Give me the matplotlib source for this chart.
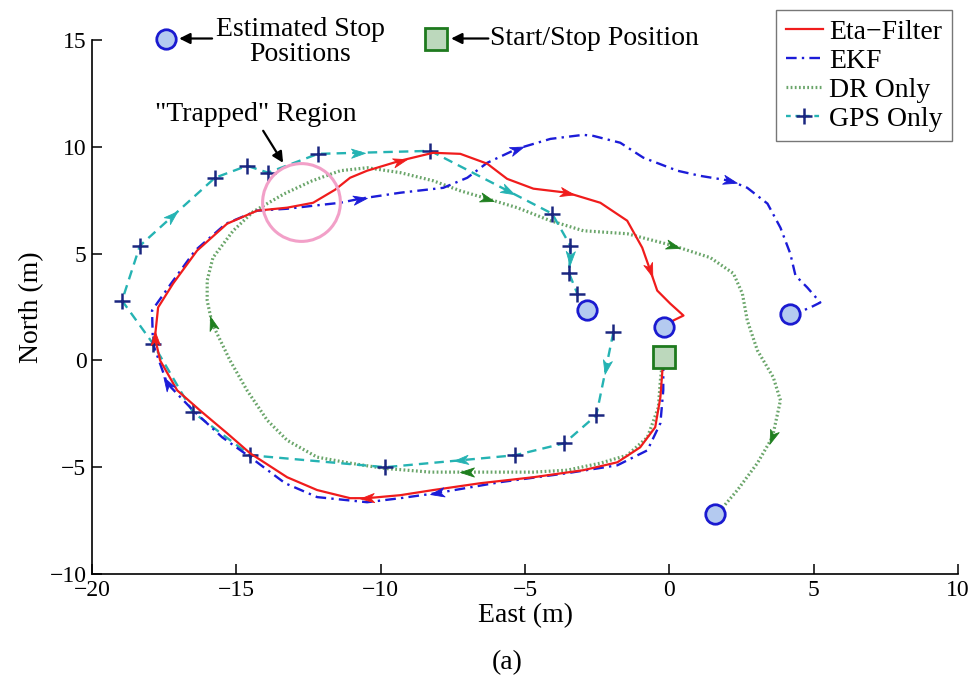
import numpy as np
import matplotlib
matplotlib.use("Agg")
import matplotlib.pyplot as plt
from matplotlib.lines import Line2D
from matplotlib.markers import MarkerStyle
from matplotlib.path import Path
from matplotlib.transforms import Affine2D

plt.rcParams['font.family'] = ['Liberation Serif', 'DejaVu Serif']

# ---------------------------------------------------------------- data (metres)
eta_east = [-0.24, -0.24, -0.31, -0.49, -1.01, -1.80, -2.98, -4.71, -6.55, -8.18,
            -9.32, -10.47, -11.06, -12.20, -13.24, -14.52, -15.32, -16.26, -17.05, -17.64,
            -17.82, -17.71, -17.19, -16.36, -15.32, -14.28, -13.24, -12.34, -11.58, -11.06,
            -10.47, -9.32, -8.18, -7.24, -6.31, -5.62, -4.71, -3.54, -2.39, -1.46,
            -0.94, -0.66, -0.42, 0.03, 0.49, 0.14, -0.20]
eta_north = [0.14, -0.47, -1.73, -3.13, -4.07, -4.77, -5.14, -5.47, -5.75, -6.07,
             -6.31, -6.45, -6.45, -6.07, -5.47, -4.35, -3.41, -2.34, -1.40, 0.00,
             1.07, 2.48, 3.60, 5.14, 6.40, 7.01, 7.15, 7.38, 7.99, 8.55,
             8.88, 9.35, 9.72, 9.67, 9.21, 8.50, 8.04, 7.85, 7.38, 6.54,
             5.28, 4.21, 3.27, 2.66, 2.10, 1.87, 1.55]

ekf_east = [-0.21, -0.21, -0.21, -0.31, -0.76, -1.80, -3.54, -5.86, -8.04, -9.32,
            -10.47, -12.20, -13.31, -14.52, -15.49, -16.50, -17.40, -17.89, -17.92, -17.26,
            -16.43, -15.36, -14.28, -13.24, -12.34, -11.40, -10.71, -9.32, -7.83, -7.00,
            -6.31, -5.27, -4.12, -2.98, -2.63, -1.70, -0.90, 0.28, 1.07, 2.11,
            2.70, 3.40, 3.85, 4.19, 4.37, 4.78, 5.23, 4.89, 4.64, 4.19]
ekf_north = [0.00, -0.61, -1.40, -2.94, -4.21, -4.91, -5.28, -5.70, -6.21, -6.45,
             -6.64, -6.40, -5.75, -4.53, -3.60, -2.34, -1.07, 0.79, 2.34, 3.60,
             5.14, 6.40, 7.01, 7.10, 7.24, 7.38, 7.57, 7.85, 8.08, 8.55,
             9.25, 9.91, 10.37, 10.56, 10.51, 10.19, 9.49, 8.88, 8.64, 8.41,
             8.08, 7.34, 6.21, 5.00, 3.97, 3.41, 2.71, 2.48, 2.34, 2.15]

dr_east = [-0.24, -0.31, -0.38, -0.76, -1.46, -2.39, -3.54, -4.71, -5.86, -7.00,
           -8.28, -9.91, -11.06, -12.20, -13.24, -13.93, -14.63, -15.22, -15.67, -15.84,
           -16.01, -16.01, -15.81, -15.11, -14.42, -13.34, -12.37, -11.40, -10.47, -9.32,
           -8.18, -7.24, -6.31, -5.27, -4.12, -2.98, -1.46, 0.14, 1.42, 2.22,
           2.53, 2.70, 3.05, 3.60, 3.85, 3.57, 3.05, 2.36, 1.77, 1.59]
dr_north = [-0.09, -0.93, -2.20, -3.60, -4.44, -4.81, -5.14, -5.23, -5.23, -5.23,
            -5.23, -5.05, -4.81, -4.53, -3.74, -2.80, -1.40, 0.00, 1.26, 1.73,
            2.80, 3.74, 4.81, 6.07, 6.96, 7.80, 8.41, 8.88, 9.02, 8.79,
            8.41, 7.94, 7.57, 7.15, 6.54, 6.07, 5.93, 5.37, 4.81, 4.07,
            3.13, 1.87, 0.47, -0.79, -1.87, -3.60, -4.81, -6.07, -7.01, -7.20]

gps_east = [-1.94, -2.53, -3.64, -5.34, -9.84, -14.52, -16.50, -17.89, -18.96, -18.34,
            -15.74, -14.63, -13.90, -12.17, -8.28, -4.06, -3.43, -3.47, -3.19]
gps_north = [1.31, -2.57, -3.88, -4.44, -5.00, -4.44, -2.43, 0.79, 2.80, 5.37,
             8.55, 9.11, 8.79, 9.67, 9.81, 6.87, 5.37, 4.07, 3.13]

# estimated stop positions (Eta, EKF, DR, GPS) and the true start/stop point
stop_east = [-0.20, 4.19, 1.59, -2.85]
stop_north = [1.55, 2.15, -7.20, 2.35]
start_east, start_north = -0.20, 0.15

x_ticks = [-20, -15, -10, -5, 0, 5, 10]
y_ticks = [-10, -5, 0, 5, 10, 15]

# direction arrows: index along each track
eta_arrow_idx = [11, 20, 31, 37, 41]
ekf_arrow_idx = [8, 16, 26, 31, 39]
dr_arrow_idx = [9, 19, 32, 37, 45]
# GPS arrows sit part-way along a segment: (segment start, fraction)
gps_arrow_seg = [(0, 0.42), (3, 0.42), (9, 0.43), (13, 0.36), (14, 0.64), (16, 0.43)]

# ---------------------------------------------------------------- styles
RED = '#f01c1c'
BLUE = '#1c1cd8'
GREEN_DOT = '#6aa56a'
GREEN_HEAD = '#1f7f1f'
CYAN = '#25b3b3'
NAVY = '#1a2680'
FS = 20

fig = plt.figure(figsize=(9.73, 6.86), dpi=100)
ax = fig.add_axes([92 / 973, 1 - 574 / 686, (958 - 92) / 973, (574 - 40) / 686])
ax.set_xlim(-20, 10)
ax.set_ylim(-10, 15)

l_eta, = ax.plot(eta_east, eta_north, color=RED, lw=1.6, zorder=4)
l_ekf, = ax.plot(ekf_east, ekf_north, color=BLUE, lw=1.7,
                 ls=(0, (4.5, 2.2, 1, 2.2)), zorder=3)
l_dr, = ax.plot(dr_east, dr_north, color=GREEN_DOT, lw=2.3,
                ls=(0, (0.55, 0.75)), zorder=2)
ax.plot(gps_east, gps_north, color=CYAN, lw=1.7, ls=(0, (4, 2.6)), zorder=2)
ax.plot(gps_east, gps_north, ls='none', marker='+', ms=11, mew=1.8,
        color=NAVY, zorder=3)

# notched arrow head pointing along +x
head_path = Path([(0.5, 0), (-0.5, 0.33), (-0.22, 0), (-0.5, -0.33), (0.5, 0)],
                 [Path.MOVETO, Path.LINETO, Path.LINETO, Path.LINETO, Path.CLOSEPOLY])


def arrow_head(p_from, p_to, at, color, size=10):
    a, b = ax.transData.transform([p_from, p_to])
    ang = np.degrees(np.arctan2(b[1] - a[1], b[0] - a[0]))
    m = MarkerStyle(head_path, transform=Affine2D().rotate_deg(ang))
    ax.plot([at[0]], [at[1]], ls='none', marker=m, ms=size, mfc=color,
            mec=color, mew=0.6, zorder=6)


def track_arrows(xs, ys, idx, color):
    for i in idx:
        arrow_head((xs[i - 1], ys[i - 1]), (xs[i + 1], ys[i + 1]),
                   (xs[i], ys[i]), color)


track_arrows(eta_east, eta_north, eta_arrow_idx, RED)
track_arrows(ekf_east, ekf_north, ekf_arrow_idx, BLUE)
track_arrows(dr_east, dr_north, dr_arrow_idx, GREEN_HEAD)
for i, f in gps_arrow_seg:
    p0 = (gps_east[i], gps_north[i])
    p1 = (gps_east[i + 1], gps_north[i + 1])
    pm = (p0[0] + f * (p1[0] - p0[0]), p0[1] + f * (p1[1] - p0[1]))
    arrow_head(p0, p1, pm, CYAN)

# stop estimates and start point
ax.plot(stop_east, stop_north, ls='none', marker='o', ms=14, mfc='#b4caf0',
        mec='#1a1ad0', mew=2, zorder=7)
ax.plot([start_east], [start_north], ls='none', marker='s', ms=16,
        mfc='#bcd8bc', mec='#1e7a1e', mew=2, zorder=7)

# "trapped" region
ax.plot([-12.76], [7.43], ls='none', marker='o', ms=56, mfc='none',
        mec='#f2a0c8', mew=2.2, zorder=5)
ax.text(-14.32, 11.5, '"Trapped" Region', fontsize=FS, ha='center', va='center')
ax.annotate('', xy=(-13.38, 9.25), xytext=(-14.07, 10.75),
            arrowprops=dict(arrowstyle='-|>', color='black', lw=1.6,
                            mutation_scale=16, shrinkA=0, shrinkB=0))

# key at the top
ax.plot([-17.43], [15.07], ls='none', marker='o', ms=14, mfc='#b4caf0',
        mec='#1a1ad0', mew=2, clip_on=False, zorder=7)
ax.annotate('', xy=(-16.98, 15.07), xytext=(-15.84, 15.07),
            arrowprops=dict(arrowstyle='-|>', color='black', lw=1.6,
                            mutation_scale=16, shrinkA=0, shrinkB=0),
            annotation_clip=False)
ax.text(-12.79, 16.1, 'Estimated Stop\nPositions', fontsize=FS, ha='center',
        va='top', linespacing=1.05)

ax.plot([-8.08], [15.07], ls='none', marker='s', ms=16, mfc='#bcd8bc',
        mec='#1e7a1e', mew=2, clip_on=False, zorder=7)
ax.annotate('', xy=(-7.56, 15.07), xytext=(-6.27, 15.07),
            arrowprops=dict(arrowstyle='-|>', color='black', lw=1.6,
                            mutation_scale=16, shrinkA=0, shrinkB=0),
            annotation_clip=False)
ax.text(-6.22, 15.07, 'Start/Stop Position', fontsize=FS, ha='left', va='center')

# legend
gps_proxy = Line2D([], [], color=CYAN, lw=1.7, ls=(0, (2, 2)), marker='+',
                   ms=11, mew=1.8, mec=NAVY)
leg = fig.legend([l_eta, l_ekf, l_dr, gps_proxy],
                 ['Eta\u2212Filter', 'EKF', 'DR Only', 'GPS Only'],
                 loc='upper right', bbox_to_anchor=(952 / 973, 1 - 10 / 686),
                 fontsize=FS, frameon=True, fancybox=False, framealpha=1,
                 edgecolor='#777777', handlelength=1.35, handletextpad=0.2,
                 labelspacing=0.12, borderpad=0.35, borderaxespad=0,
                 numpoints=1)
leg.get_frame().set_linewidth(1.0)

# axes
for s in ('top', 'right'):
    ax.spines[s].set_visible(False)
for s in ('left', 'bottom'):
    ax.spines[s].set_linewidth(1.2)
ax.set_xticks(x_ticks)
ax.set_yticks(y_ticks)
ax.tick_params(direction='in', length=7, width=1.1, labelsize=17,
               top=False, right=False, pad=4)
ax.set_xlabel('East (m)', fontsize=FS, labelpad=2)
ax.set_ylabel('North (m)', fontsize=FS, labelpad=4)
fig.text(507 / 973, 1 - 663 / 686, '(a)', fontsize=FS, ha='center', va='center')

fig.savefig('out.png', dpi=100)
